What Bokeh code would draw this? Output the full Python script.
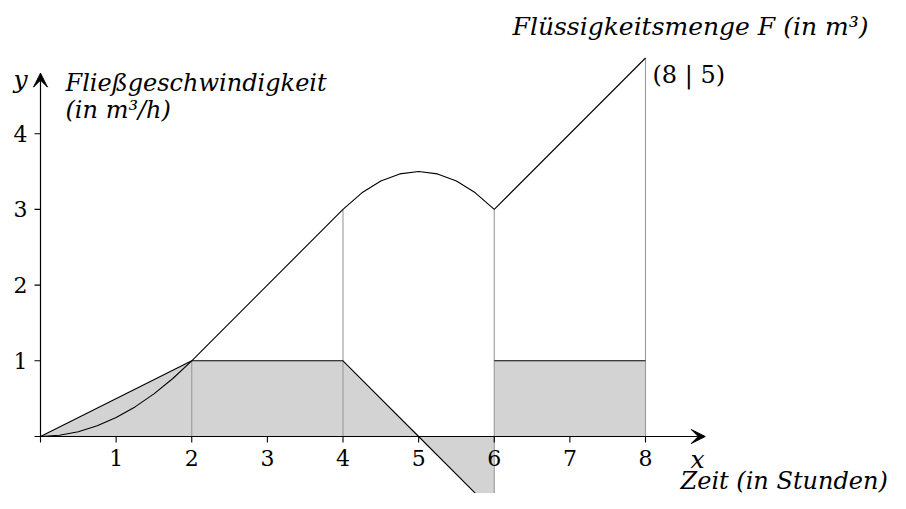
from bokeh.plotting import figure
from bokeh.models import ColumnDataSource, Label, Arrow, VeeHead
from bokeh.core.properties import value
from bokeh.embed import file_html
from bokeh.resources import INLINE

# ---- data ----
# flow rate f (piecewise linear)
rate_x = [0, 2, 4, 5, 6]
rate_y = [0, 1, 1, 0, -1]
rate2_x = [6, 8]
rate2_y = [1, 1]
# accumulated amount F
amount_x = [0, 0.25, 0.5, 0.75, 1, 1.25, 1.5, 1.75, 2,
            4, 4.25, 4.5, 4.75, 5, 5.25, 5.5, 5.75, 6, 8]
amount_y = [0, 0.016, 0.063, 0.141, 0.25, 0.391, 0.563, 0.766, 1,
            3, 3.219, 3.375, 3.469, 3.5, 3.469, 3.375, 3.219, 3, 5]
# gray guide lines
guide_x = [2, 4, 6, 8]
guide_lo = [0, 0, -1, 0]
guide_hi = [1, 3, 3, 5]
# ticks
x_ticks = [0, 1, 2, 3, 4, 5, 6, 7, 8]
x_label_pos = [1, 2, 3, 4, 5, 6, 7, 8]
x_tick_labels = ["1", "2", "3", "4", "5", "6", "7", "8"]
y_ticks = [0, 1, 2, 3, 4]
y_label_pos = [1, 2, 3, 4]
y_tick_labels = ["1", "2", "3", "4"]
x_axis_end = 8.79
y_axis_end = 4.8

SERIF = "DejaVu Serif"
XS = 75.625  # px per x unit
YS = 75.7    # px per y unit
W, H = 890, 493
OX, OY = 40, 436  # pixel position of the origin

p = figure(width=W, height=H,
           x_range=(-OX / XS, (W - OX) / XS),
           y_range=(-(H - OY) / YS, OY / YS),
           output_backend="svg", toolbar_location=None,
           x_axis_type=None, y_axis_type=None, min_border=0,
           outline_line_color=None)
p.grid.visible = False

# shaded area under f
p.varea(x=rate_x, y1=[0] * len(rate_x), y2=rate_y, fill_color="#d3d3d3")
p.varea(x=rate2_x, y1=[0] * len(rate2_x), y2=rate2_y, fill_color="#d3d3d3")

# gray vertical guides
p.segment(x0=guide_x, y0=guide_lo, x1=guide_x, y1=guide_hi,
          line_color="#9a9a9a", line_width=1.1)

# f outline
p.line(rate_x, rate_y, line_color="black", line_width=1.1)
p.line(rate2_x, rate2_y, line_color="black", line_width=1.1)

# F curve
p.line(amount_x, amount_y, line_color="black", line_width=1.1)

# axes
p.add_layout(Arrow(x_start=0, y_start=0, x_end=x_axis_end, y_end=0,
                   line_color="black", line_width=1.2,
                   end=VeeHead(size=14, fill_color="black", line_color="black", line_width=1)))
p.add_layout(Arrow(x_start=0, y_start=0, x_end=0, y_end=y_axis_end,
                   line_color="black", line_width=1.2,
                   end=VeeHead(size=14, fill_color="black", line_color="black", line_width=1)))

tick_len_x = 6 / YS
tick_len_y = 6 / XS
p.segment(x0=x_ticks, y0=[0] * len(x_ticks), x1=x_ticks, y1=[-tick_len_x] * len(x_ticks),
          line_color="black", line_width=1.1)
p.segment(x0=[0] * len(y_ticks), y0=y_ticks, x1=[-tick_len_y] * len(y_ticks), y1=y_ticks,
          line_color="black", line_width=1.1)

xs = ColumnDataSource(dict(x=x_label_pos, y=[0] * len(x_label_pos), t=x_tick_labels))
p.text(x="x", y="y", text="t", source=xs, text_align="center", text_baseline="alphabetic",
       y_offset=21, text_font=value(SERIF), text_font_size="22px", text_color="black")
ys = ColumnDataSource(dict(x=[0] * len(y_label_pos), y=y_label_pos, t=y_tick_labels))
p.text(x="x", y="y", text="t", source=ys, text_align="right", text_baseline="middle",
       x_offset=-13, text_font=value(SERIF), text_font_size="22px", text_color="black")

def lab(text, px, py, align="left", size="25px", style="italic"):
    p.add_layout(Label(x=(px - OX) / XS, y=(OY - py) / YS, text=text,
                       text_align=align, text_baseline="alphabetic",
                       text_font=SERIF, text_font_style=style,
                       text_font_size=size, text_color="black"))

lab("y", 20, 79, align="center")
lab("x", 697, 459, align="center")
lab("Fließgeschwindigkeit", 65, 82, size="24px")
lab("(in m³/h)", 65, 109, size="24px")
lab("Flüssigkeitsmenge F (in m³)", 690, 26, align="center")
lab("(8 | 5)", 652, 74, size="24px", style="normal")
lab("Zeit (in Stunden)", 680, 480, size="24px")

open("out.html", "w").write(file_html(p, INLINE))
